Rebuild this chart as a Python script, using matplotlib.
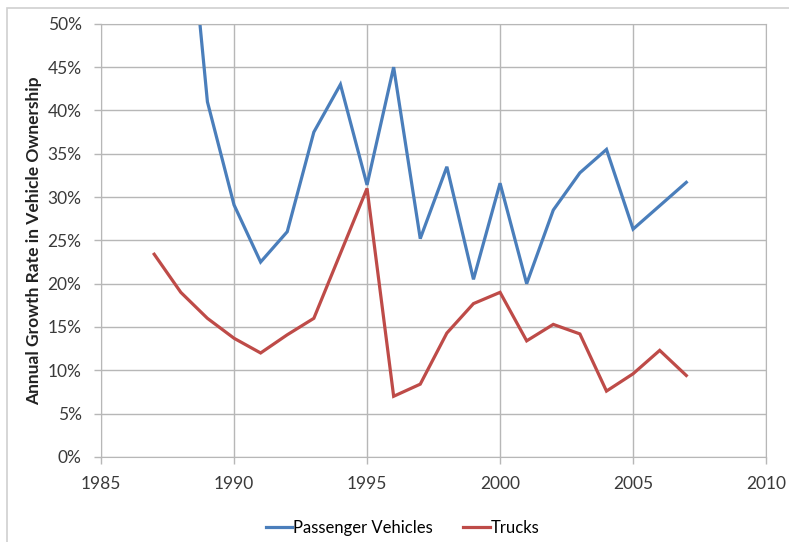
"""Annual growth rate in vehicle ownership, passenger vehicles vs trucks."""

import matplotlib
import numpy as np
from matplotlib import pyplot as plt
from matplotlib.patches import Rectangle
from matplotlib.ticker import FuncFormatter, MultipleLocator

matplotlib.rcParams.update({"font.family": ["Lato", "DejaVu Sans"], "font.size": 10})

# Growth rates in percent.
passenger_years = np.arange(1988, 2008)
passenger_growth = [73.0, 41.0, 29.1, 22.5, 26.0, 37.5, 43.0, 31.4, 45.0, 25.2,
                    33.5, 20.5, 31.6, 20.0, 28.5, 32.8, 35.5, 26.3, 29.0, 31.7]
truck_years = np.arange(1987, 2008)
truck_growth = [23.4, 19.0, 16.0, 13.7, 12.0, 14.1, 16.0, 23.5, 31.0, 7.0, 8.4,
                14.3, 17.7, 19.0, 13.4, 15.3, 14.2, 7.6, 9.6, 12.3, 9.4]

BLUE = "#4a7ebb"
RED = "#be4b48"
GRID = "#b7b7b7"


def _main() -> None:
    fig = plt.figure(figsize=(7.89, 5.42), dpi=100)
    fig.patches.append(Rectangle((0.009, -0.01), 1.1, 0.995, transform=fig.transFigure,
                                 fill=False, edgecolor="#d0d0d0", linewidth=1.2))
    ax = fig.add_axes([0.128, 0.157, 0.843, 0.799])
    ax.plot(passenger_years, np.array(passenger_growth) / 100, color=BLUE,
            linewidth=2.3, label="Passenger Vehicles", solid_joinstyle="miter")
    ax.plot(truck_years, np.array(truck_growth) / 100, color=RED,
            linewidth=2.3, label="Trucks", solid_joinstyle="miter")

    ax.set_xlim(1985, 2010)
    ax.set_ylim(0, 0.5)
    ax.xaxis.set_major_locator(MultipleLocator(5))
    ax.yaxis.set_major_locator(MultipleLocator(0.05))
    ax.yaxis.set_major_formatter(FuncFormatter(lambda v, _: f"{v * 100:.0f}%"))
    ax.grid(True, color=GRID, linewidth=1.0)
    ax.set_axisbelow(True)
    for spine in ax.spines.values():
        spine.set_color(GRID)
    ax.tick_params(axis="both", colors=GRID, length=5, width=1.0,
                   labelcolor="#3a3a3a", labelsize=12.5)
    ax.tick_params(axis="y", pad=9)
    ax.tick_params(axis="x", pad=9)
    ax.set_ylabel("Annual Growth Rate in Vehicle Ownership", fontweight="bold",
                  fontsize=12.5, color="#222222", labelpad=4)

    fig.legend(loc="center", bbox_to_anchor=(0.51, 0.026), ncol=2, frameon=False,
               handlelength=1.6, handletextpad=0.05, columnspacing=1.8, fontsize=12)
    fig.savefig("out.png", dpi=100)


if __name__ == "__main__":
    _main()
